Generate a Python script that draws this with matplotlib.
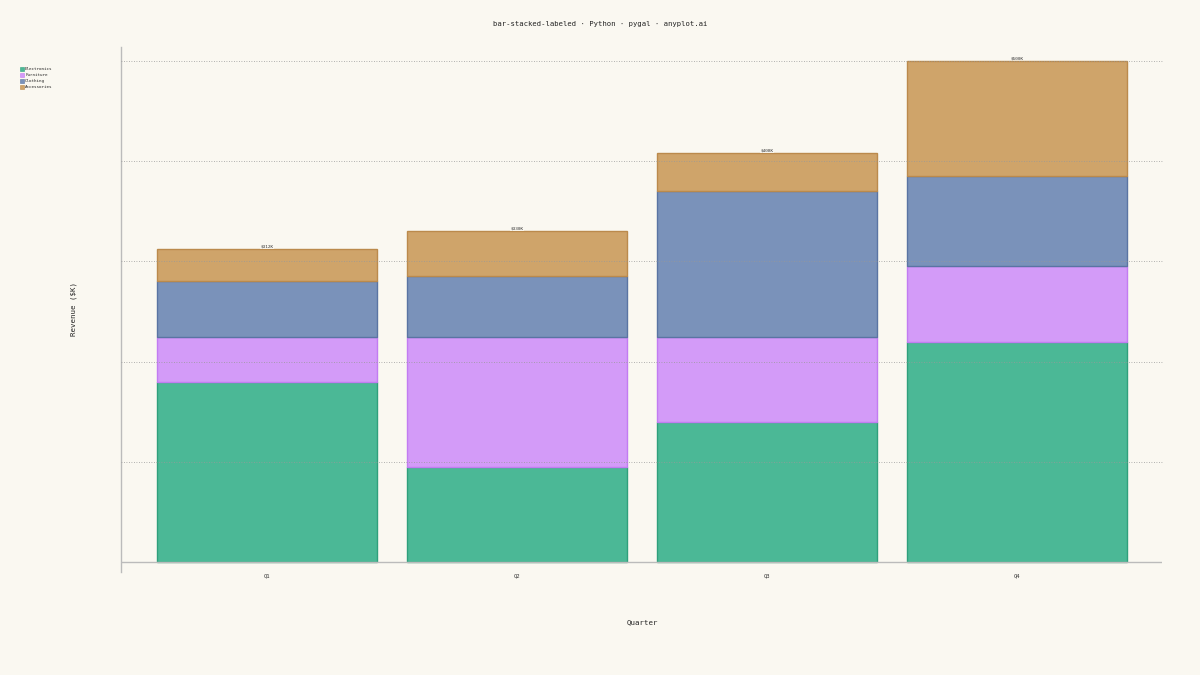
import matplotlib
matplotlib.use("Agg")
import matplotlib.pyplot as plt
import numpy as np

quarters = ["Q1", "Q2", "Q3", "Q4"]
series_names = ["Electronics", "Furniture", "Clothing", "Accessories"]
electronics = [180, 95, 140, 220]
furniture = [45, 130, 85, 75]
clothing = [55, 60, 145, 90]
accessories = [32, 45, 38, 115]
total_labels = ["$312K", "$330K", "$408K", "$500K"]

fills = ["#4BB896", "#D39BF8", "#7A92BA", "#CFA46A"]
edges = ["#2FA07C", "#C27CF2", "#5A74A3", "#BB8A4C"]
bg = "#FAF8F1"
mono = "DejaVu Sans Mono"

fig = plt.figure(figsize=(12, 6.75), dpi=100, facecolor=bg)
ax = fig.add_axes([121/1200, 1 - 572/675, (1162-121)/1200, (572-47)/675])
ax.set_facecolor(bg)

x = np.arange(len(quarters))
bottom = np.zeros(len(quarters))
for vals, fc, ec, name in zip([electronics, furniture, clothing, accessories], fills, edges, series_names):
    ax.bar(x, vals, width=0.88, bottom=bottom, color=fc, edgecolor=ec, linewidth=1.0, label=name, zorder=2)
    bottom = bottom + np.array(vals)

for xi, tot, lab in zip(x, bottom, total_labels):
    ax.text(xi, tot + 1.0, lab, ha="center", va="bottom", fontsize=3.2, family=mono, color="#333333",
            bbox=dict(boxstyle="square,pad=0.1", fc=bg, ec="none", alpha=0.8), zorder=4)

ax.set_xlim(-0.584, 3.58)
ax.set_ylim(-10, 514)
for gy in [100, 200, 300, 400, 500]:
    ax.axhline(gy, color="#999999", linestyle=(0, (1, 2)), linewidth=0.6, zorder=3, clip_on=False)
ax.axhline(0, color="#BBBBBB", linewidth=1.0, zorder=3)

for s in ["top", "right", "bottom"]:
    ax.spines[s].set_visible(False)
ax.spines["left"].set_color("#BBBBBB")
ax.spines["left"].set_linewidth(1.0)

ax.set_yticks([])
ax.set_xticks(x)
ax.set_xticklabels(quarters, fontsize=4, family=mono, color="#333333")
ax.tick_params(axis="x", length=0, pad=1)

fig.text(642/1200, 1 - 622/675, "Quarter", ha="center", va="center", fontsize=5.3, family=mono, color="#222222")
fig.text(74/1200, 1 - 309/675, "Revenue ($K)", ha="center", va="center", rotation=90, fontsize=5.3, family=mono, color="#222222")
fig.text(600/1200, 1 - 24/675, "bar-stacked-labeled · Python · pygal · anyplot.ai", ha="center", va="center",
         fontsize=5.2, family=mono, color="#222222")

for i, (name, fc, ec) in enumerate(zip(series_names, fills, edges)):
    yy = 69 + 6 * i
    fig.patches.append(matplotlib.patches.Rectangle((20/1200, 1 - (yy + 2)/675), 4/1200, 4/675,
                                                    transform=fig.transFigure, fc=fc, ec=ec, lw=0.4))
    fig.text(25/1200, 1 - yy/675, name, ha="left", va="center", fontsize=3.1, family=mono, color="#222222")

fig.savefig("out.png", dpi=100, facecolor=bg)
